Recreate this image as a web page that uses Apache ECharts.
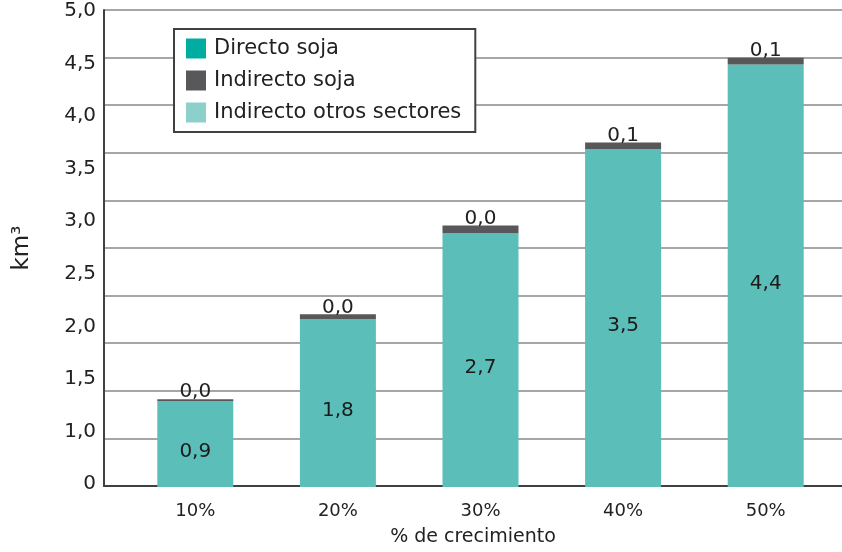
<!DOCTYPE html>
<html>
<head>
<meta charset="utf-8">
<script src="https://cdn.jsdelivr.net/npm/echarts@6/dist/echarts.min.js"></script>
<style>
  html, body { margin: 0; padding: 0; background: #fff; }
  #chart { width: 842px; height: 552px; }
</style>
</head>
<body>
<div id="chart"></div>
<script>
// categorías y valores (km3)
const categories = ['10%', '20%', '30%', '40%', '50%'];
const directoSoja = [0, 0, 0, 0, 0];
const indirectoSoja = [0.02, 0.05, 0.08, 0.07, 0.07];
const indirectoSojaLabels = ['0,0', '0,0', '0,0', '0,1', '0,1'];
const indirectoOtros = [0.90, 1.76, 2.66, 3.54, 4.43];
// etiquetas del eje Y tal como aparecen (sin 0,5)
const yTickLabels = ['0', '1,0', '1,5', '2,0', '2,5', '3,0', '3,5', '4,0', '4,5', '5,0'];

const font = 'DejaVu Sans';
const textColor = '#222';
const chart = echarts.init(document.getElementById('chart'));

const fmt = v => v.toFixed(1).replace('.', ',');

chart.setOption({
    animation: false,
    textStyle: { fontFamily: font },
    grid: [
        { left: 104, right: 0, top: 10, bottom: 65 },   // líneas de cuadrícula
        { left: 124, right: 5, top: 10, bottom: 65 },   // barras
        { left: 104, right: 0, top: 11, bottom: 68 }    // etiquetas del eje Y
    ],
    legend: {
        orient: 'vertical',
        left: 174,
        top: 29,
        padding: [9, 14, 9, 12],
        itemGap: 11,
        itemWidth: 20,
        itemHeight: 20,
        borderColor: '#404040',
        borderWidth: 2,
        backgroundColor: '#fff',
        textStyle: { fontFamily: font, fontSize: 21, color: textColor, padding: [0, 0, 0, 3] },
        data: [
            { name: 'Directo soja', icon: 'rect', itemStyle: { color: '#00ada0' } },
            { name: 'Indirecto soja', icon: 'rect', itemStyle: { color: '#58585a' } },
            { name: 'Indirecto otros sectores', icon: 'rect', itemStyle: { color: '#8ccfcb' } }
        ]
    },
    xAxis: [
        {
            gridIndex: 0, type: 'value', min: 0, max: 1,
            axisLine: { show: true, lineStyle: { color: '#404040', width: 2 } },
            axisTick: { show: false }, axisLabel: { show: false }, splitLine: { show: false },
            name: '% de crecimiento', nameLocation: 'middle', nameGap: 42,
            nameTextStyle: { fontFamily: font, fontSize: 19, color: textColor }
        },
        {
            gridIndex: 1, type: 'category', data: categories,
            axisLine: { show: false }, axisTick: { show: false },
            axisLabel: { fontFamily: font, fontSize: 18, color: textColor, margin: 15 }
        },
        { gridIndex: 2, type: 'value', show: false }
    ],
    yAxis: [
        {
            gridIndex: 0, type: 'value', min: 0, max: 5, interval: 0.5,
            axisLine: { show: true, lineStyle: { color: '#404040', width: 2 } },
            axisTick: { show: false }, axisLabel: { show: false },
            splitLine: { lineStyle: { color: '#a6a6a6', width: 2 } },
            name: 'km³', nameLocation: 'middle', nameGap: 70, nameRotate: 90,
            nameTextStyle: { fontFamily: font, fontSize: 23, color: textColor }
        },
        { gridIndex: 1, type: 'value', min: 0, max: 5, show: false },
        {
            gridIndex: 2, type: 'value', min: 0, max: 9, interval: 1,
            axisLine: { show: false }, axisTick: { show: false }, splitLine: { show: false },
            axisLabel: {
                fontFamily: font, fontSize: 20, color: textColor, margin: 8,
                formatter: v => yTickLabels[v]
            }
        }
    ],
    series: [
        {
            name: 'Indirecto otros sectores', type: 'bar', stack: 'total',
            xAxisIndex: 1, yAxisIndex: 1, barWidth: 76,
            itemStyle: { color: '#5bbeb9' },
            label: {
                show: true, position: 'inside', offset: [0, 8],
                fontFamily: font, fontSize: 20, color: '#1a1a1a',
                formatter: p => fmt(p.value)
            },
            data: indirectoOtros
        },
        {
            name: 'Indirecto soja', type: 'bar', stack: 'total',
            xAxisIndex: 1, yAxisIndex: 1, barWidth: 76,
            itemStyle: { color: '#58585a' },
            label: {
                show: true, position: 'top', distance: -3,
                fontFamily: font, fontSize: 20, color: textColor,
                formatter: p => indirectoSojaLabels[p.dataIndex]
            },
            data: indirectoSoja
        },
        {
            name: 'Directo soja', type: 'bar', stack: 'total',
            xAxisIndex: 1, yAxisIndex: 1, barWidth: 76,
            itemStyle: { color: '#00ada0' },
            data: directoSoja
        }
    ]
});
</script>
</body>
</html>
